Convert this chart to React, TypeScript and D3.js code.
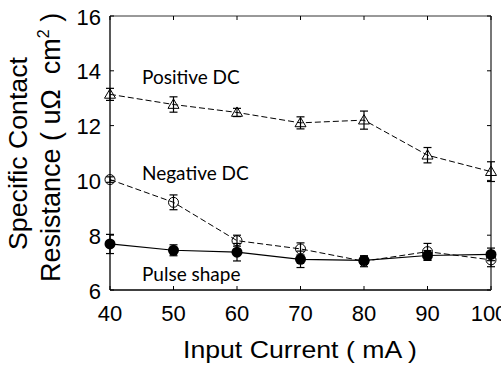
import React from "react";
import * as d3 from "d3";

const currents = [40, 50, 60, 70, 80, 90, 100];
const positiveDC = [13.14, 12.77, 12.48, 12.1, 12.2, 10.92, 10.32];
const positiveErr = [0.22, 0.28, 0.15, 0.22, 0.33, 0.28, 0.36];
const negativeDC = [10.03, 9.2, 7.8, 7.5, 7.05, 7.4, 7.1];
const negativeErr = [0.1, 0.27, 0.2, 0.22, 0.2, 0.3, 0.25];
const pulse = [7.68, 7.45, 7.38, 7.12, 7.08, 7.26, 7.3];
const pulseErr = [0.35, 0.2, 0.32, 0.3, 0.15, 0.18, 0.23];
const xTicks = [40, 50, 60, 70, 80, 90, 100];
const yTicks = [6, 8, 10, 12, 14, 16];

const W = 501, H = 365;
const L = 110, R = 491, T = 16, B = 290;

export default function App() {
  const x = d3.scaleLinear().domain([40, 100]).range([L, R]);
  const y = d3.scaleLinear().domain([6, 16]).range([B, T]);
  const line = d3.line<number>().x((_, i) => x(currents[i])).y((d) => y(d));

  const errBars = (vals: number[], errs: number[], key: string) =>
    vals.map((v, i) => {
      const cx = x(currents[i]);
      const y1 = y(v + errs[i]);
      const y2 = y(v - errs[i]);
      return (
        <g key={key + i} stroke="#000" strokeWidth={1.2}>
          <line x1={cx} x2={cx} y1={y1} y2={y2} />
          <line x1={cx - 4} x2={cx + 4} y1={y1} y2={y1} />
          <line x1={cx - 4} x2={cx + 4} y1={y2} y2={y2} />
        </g>
      );
    });

  const tri = (cx: number, cy: number, k: string) => {
    const s = 5.5;
    return (
      <path
        key={k}
        d={`M${cx},${cy - s} L${cx + s},${cy + s * 0.7} L${cx - s},${cy + s * 0.7} Z`}
        fill="none"
        stroke="#000"
        strokeWidth={1}
      />
    );
  };

  return (
    <svg width={W} height={H} style={{ position: "absolute", left: 0, top: 0, background: "#fff" }}>
      <rect x={0} y={0} width={W} height={H} fill="#fff" />
      <line x1={L} x2={L} y1={T} y2={B} stroke="#000" strokeWidth={1.3} />
      <line x1={L} x2={R} y1={B} y2={B} stroke="#000" strokeWidth={1.3} />
      <line x1={L} x2={R} y1={T} y2={T} stroke="#333" strokeWidth={1} />
      <line x1={R} x2={R} y1={T} y2={B} stroke="#777" strokeWidth={2} />
      {xTicks.map((t) => (
        <g key={"xt" + t} stroke="#000">
          <line x1={x(t)} x2={x(t)} y1={B} y2={B - 4} />
          <line x1={x(t)} x2={x(t)} y1={T} y2={T + 4} />
        </g>
      ))}
      {yTicks.map((t) => (
        <g key={"yt" + t} stroke="#000">
          <line x1={L} x2={L + 4} y1={y(t)} y2={y(t)} />
          <line x1={R} x2={R - 4} y1={y(t)} y2={y(t)} />
        </g>
      ))}
      <g fontFamily="Liberation Sans, Arial, sans-serif" fill="#000">
        {xTicks.map((t) => (
          <text key={"xl" + t} x={x(t) - (t === 100 ? 2 : 0)} y={321} fontSize={22} textAnchor="middle">
            {t}
          </text>
        ))}
        {yTicks.map((t) => (
          <text key={"yl" + t} x={101} y={y(t) + 8.5} fontSize={22} textAnchor="end">
            {t}
          </text>
        ))}
        <text x={183} y={358} fontSize={24} textLength={234} lengthAdjust="spacingAndGlyphs">
          Input Current ( mA )
        </text>
        <g transform="rotate(-90)">
          <text x={-250} y={27} fontSize={25} textLength={193} lengthAdjust="spacingAndGlyphs">
            Specific Contact
          </text>
          <text x={-282} y={60} fontSize={27} style={{ whiteSpace: "pre" }}>
            {"Resistance ( uΩ  cm"}
            <tspan dy={-11} fontSize={16}>2</tspan>
            <tspan dy={11}>{" )"}</tspan>
          </text>
        </g>
      </g>
      <path d={line(positiveDC) || ""} fill="none" stroke="#000" strokeWidth={1} strokeDasharray="6,3" />
      <path d={line(negativeDC) || ""} fill="none" stroke="#000" strokeWidth={1} strokeDasharray="6,3" />
      <path d={line(pulse) || ""} fill="none" stroke="#000" strokeWidth={1.2} />
      {errBars(positiveDC, positiveErr, "pe")}
      {errBars(negativeDC, negativeErr, "ne")}
      {errBars(pulse, pulseErr, "pu")}
      {positiveDC.map((v, i) => tri(x(currents[i]), y(v), "pt" + i))}
      {negativeDC.map((v, i) => (
        <circle key={"nc" + i} cx={x(currents[i])} cy={y(v)} r={5} fill="none" stroke="#000" strokeWidth={1} />
      ))}
      {pulse.map((v, i) => (
        <circle key={"pc" + i} cx={x(currents[i])} cy={y(v)} r={5.5} fill="#000" />
      ))}
      <g fontFamily="Lato, Open Sans, sans-serif" fontSize={19} fill="#000">
        <text x={142} y={84}>Positive DC</text>
        <text x={142} y={180}>Negative DC</text>
        <text x={142} y={281}>Pulse shape</text>
      </g>
    </svg>
  );
}
